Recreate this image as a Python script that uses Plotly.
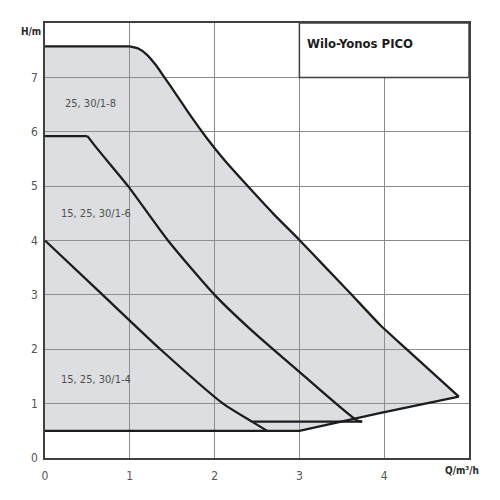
import plotly.graph_objects as go

# Curve 25, 30/1-8 (max curve)
c8_x = [0.0, 1.0, 1.1, 1.2, 1.3, 1.4, 1.55, 1.71, 1.9, 2.12, 2.42, 2.7, 3.0, 3.3, 3.6, 3.95, 4.25, 4.88]
c8_y = [7.57, 7.57, 7.53, 7.42, 7.24, 7.02, 6.68, 6.31, 5.90, 5.47, 4.95, 4.48, 4.01, 3.52, 3.03, 2.45, 2.02, 1.13]
# lower boundary of the operating range
b8_x = [0.0, 3.0, 3.96, 4.88]
b8_y = [0.5, 0.5, 0.83, 1.13]

# Curve 15, 25, 30/1-6
c6_x = [0.0, 0.5, 0.62, 0.98, 1.45, 2.0, 2.42, 3.01, 3.68, 3.74]
c6_y = [5.92, 5.92, 5.68, 5.0, 4.0, 3.0, 2.37, 1.57, 0.69, 0.67]
b6_x = [2.45, 3.74]
b6_y = [0.67, 0.67]

# Curve 15, 25, 30/1-4
c4_x = [0.0, 0.68, 1.36, 2.1, 2.45, 2.63]
c4_y = [4.0, 3.0, 2.0, 1.0, 0.66, 0.49]

labels = ["25, 30/1-8", "15, 25, 30/1-6", "15, 25, 30/1-4"]
label_x = [0.54, 0.6, 0.6]
label_y = [6.52, 4.49, 1.44]

x_ticks = [0, 1, 2, 3, 4]
y_ticks = [0, 1, 2, 3, 4, 5, 6, 7]
title_text = "Wilo-Yonos PICO"
x_title = "Q/m³/h"
y_title = "H/m"

NARROW = "DejaVu Sans Condensed, sans-serif"
LINE = "#1c1c1c"

fig = go.Figure()

# filled operating area
fill_x = c8_x + b8_x[::-1]
fill_y = c8_y + b8_y[::-1]
fig.add_trace(go.Scatter(x=fill_x, y=fill_y, fill="toself", mode="none",
                         fillcolor="rgba(150,155,165,0.33)", hoverinfo="skip",
                         showlegend=False))

segments = [
    (c8_x[:2], c8_y[:2], "linear"), (c8_x[1:], c8_y[1:], "spline"),
    (b8_x, b8_y, "linear"),
    (c6_x[:2], c6_y[:2], "linear"), (c6_x[1:], c6_y[1:], "spline"),
    (b6_x, b6_y, "linear"),
    (c4_x, c4_y, "spline"),
]
for xs, ys, shape in segments:
    line = dict(color=LINE, width=2.3, shape=shape)
    if shape == "spline":
        line["smoothing"] = 0.6
    fig.add_trace(go.Scatter(x=xs, y=ys, mode="lines", line=line,
                             hoverinfo="skip", showlegend=False))

for t, lx, ly in zip(labels, label_x, label_y):
    fig.add_annotation(x=lx, y=ly, text=t, showarrow=False,
                       font=dict(family=NARROW, size=11, color="#505050"))

# title box
fig.add_shape(type="rect", xref="x", yref="y", x0=3, x1=5, y0=7, y1=8,
              fillcolor="white", line=dict(color="#404040", width=1.5),
              layer="above")
fig.add_annotation(x=3.07, y=7.63, xanchor="left", yanchor="middle",
                   text="<b>" + title_text + "</b>", showarrow=False,
                   font=dict(family=NARROW, size=13, color="#1c1c1c"))

fig.add_annotation(xref="paper", yref="y", x=-0.005, y=7.85, xanchor="right",
                   text="<b>" + y_title + "</b>", showarrow=False,
                   font=dict(family=NARROW, size=10, color="#2a2a2a"))
fig.add_annotation(xref="x", yref="paper", x=4.92, y=-0.012, yanchor="top",
                   xanchor="center",
                   text="<b>" + x_title + "</b>", showarrow=False,
                   font=dict(family=NARROW, size=10, color="#2a2a2a"))

fig.update_xaxes(range=[0, 5], tickvals=x_ticks, ticktext=[str(v) for v in x_ticks],
                 showgrid=True, gridcolor="#8a8a8a", gridwidth=1,
                 showline=True, linecolor="#404040", linewidth=1.5, mirror=True,
                 zeroline=False, ticks="", ticklabelstandoff=6,
                 tickfont=dict(family=NARROW, size=12, color="#555555"))
fig.update_yaxes(range=[0, 8], tickvals=y_ticks, ticktext=[str(v) for v in y_ticks],
                 showgrid=True, gridcolor="#8a8a8a", gridwidth=1,
                 showline=True, linecolor="#404040", linewidth=1.5, mirror=True,
                 zeroline=False, ticks="", ticklabelstandoff=3,
                 tickfont=dict(family=NARROW, size=12, color="#555555"))

fig.update_layout(width=492, height=492, plot_bgcolor="white", paper_bgcolor="white",
                  margin=dict(l=37, r=31, t=15, b=42), showlegend=False)

fig.write_html("out.html")
